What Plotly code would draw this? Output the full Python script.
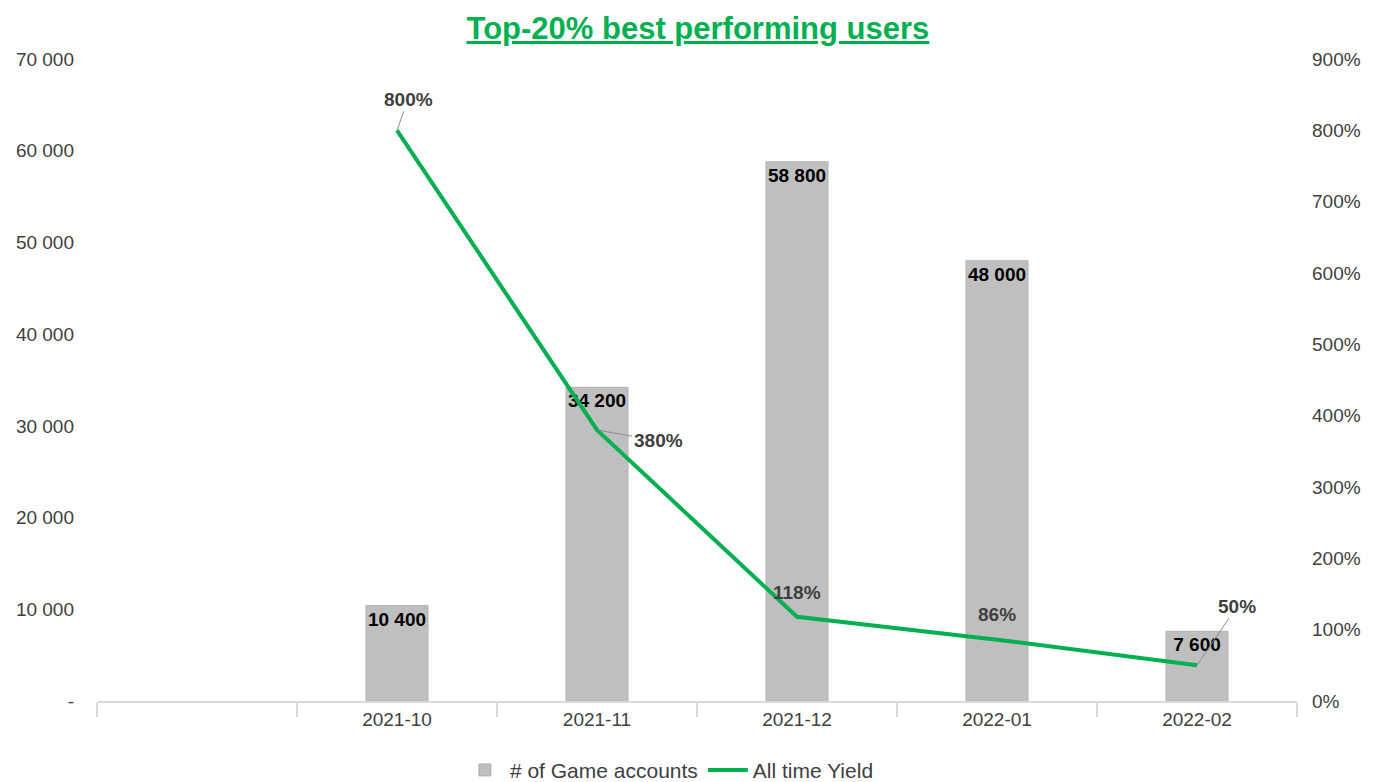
import plotly.graph_objects as go

# ---- data ----
categories = ["", "2021-10", "2021-11", "2021-12", "2022-01", "2022-02"]
accounts = [None, 10400, 34200, 58800, 48000, 7600]
yield_pct = [None, 8.00, 3.80, 1.18, 0.86, 0.50]
left_ticks = [0, 10000, 20000, 30000, 40000, 50000, 60000, 70000]
left_tick_text = ["-", "10 000", "20 000", "30 000", "40 000", "50 000", "60 000", "70 000"]
right_ticks = [0, 1, 2, 3, 4, 5, 6, 7, 8, 9]

FONT = "Liberation Sans, Arial, Helvetica, sans-serif"
GREEN = "#00B050"
GREY_TXT = "#404040"

xs = list(range(len(categories)))

def fmt_thousands(v):
    return f"{v:,}".replace(",", " ")

bar_text = [fmt_thousands(v) if v is not None else "" for v in accounts]

fig = go.Figure()
fig.add_trace(go.Bar(
    x=xs, y=accounts, name="# of Game accounts",
    marker=dict(color="#BFBFBF", line=dict(color="#B0B0B0", width=1)),
    width=0.31,
    text=bar_text, textposition="inside", insidetextanchor="end", textangle=0,
    constraintext="none", cliponaxis=False,
    textfont=dict(family=FONT, size=19, color="#000000", weight="bold"),
    hoverinfo="skip",
))
fig.add_trace(go.Scatter(
    x=xs, y=yield_pct, name="All time Yield", yaxis="y2",
    mode="lines", line=dict(color=GREEN, width=4),
    hoverinfo="skip",
))

# line data labels (offsets in px relative to the point)
label_offsets = {1: (11, -31, True), 2: (61, 11, True), 3: (0, -24, False),
                 4: (0, -25, False), 5: (40, -59, True)}
for i, v in enumerate(yield_pct):
    if v is None:
        continue
    ax, ay, arrow = label_offsets[i]
    txt = f"{round(v * 100)}%"
    if arrow:
        fig.add_annotation(x=xs[i], y=v, xref="x", yref="y2", text=txt,
                           showarrow=True, arrowhead=0, arrowwidth=1,
                           arrowcolor="#8C8C8C", ax=ax, ay=ay,
                           font=dict(family=FONT, size=19, color=GREY_TXT, weight="bold"))
    else:
        fig.add_annotation(x=xs[i], y=v, xref="x", yref="y2", text=txt,
                           showarrow=False, yshift=-ay,
                           font=dict(family=FONT, size=19, color=GREY_TXT, weight="bold"))

fig.update_layout(
    width=1400, height=782,
    margin=dict(l=97, r=103, t=59, b=81, autoexpand=False),
    paper_bgcolor="white", plot_bgcolor="white",
    title=dict(text="<u>Top-20% best performing users</u>", x=0.4985, xanchor="center",
               y=0.964, yanchor="middle",
               font=dict(family=FONT, size=31, color=GREEN, weight="bold")),
    xaxis=dict(range=[-0.5, 5.5], tickmode="array", tickvals=xs[1:], ticktext=categories[1:],
               ticks="", showgrid=False, zeroline=False,
               showline=True, linecolor="#D9D9D9", linewidth=2,
               tickfont=dict(family=FONT, size=19, color=GREY_TXT),
               minor=dict(tickmode="linear", tick0=0.5, dtick=1, ticks="outside",
                          ticklen=14, tickcolor="#D9D9D9", tickwidth=2, showgrid=False)),
    yaxis=dict(range=[0, 70000], tickmode="array", tickvals=left_ticks, ticktext=left_tick_text,
               showgrid=False, zeroline=False, showline=False, ticks="",
               ticklabelstandoff=22,
               tickfont=dict(family=FONT, size=19, color=GREY_TXT)),
    yaxis2=dict(range=[0, 9], overlaying="y", side="right", tickmode="array",
                tickvals=right_ticks, tickformat=".0%",
                showgrid=False, zeroline=False, showline=False, ticks="",
                ticklabelstandoff=14,
                tickfont=dict(family=FONT, size=19, color=GREY_TXT)),
    legend=dict(orientation="h", x=0.477, xanchor="center",
                yref="container", y=0.015, yanchor="middle",
                font=dict(family=FONT, size=21, color=GREY_TXT), itemwidth=40,
                tracegroupgap=0),
    showlegend=True,
)

fig.write_html("out.html")
